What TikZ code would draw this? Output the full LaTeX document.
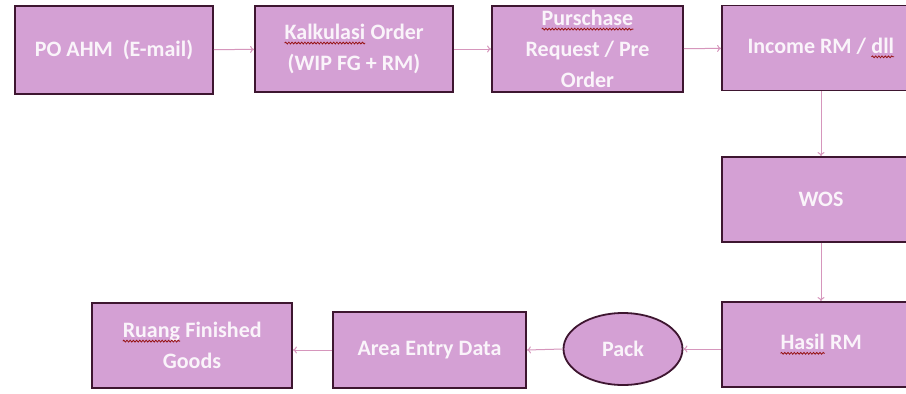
\documentclass[tikz,border=0pt]{standalone}
\usepackage{fontspec}
\setmainfont{Carlito}
\usetikzlibrary{arrows.meta,shapes.geometric,decorations.pathmorphing}
\definecolor{boxfill}{RGB}{212,160,212}
\definecolor{boxline}{RGB}{62,22,48}
\definecolor{boxtext}{RGB}{250,244,250}
\definecolor{arrowcol}{RGB}{214,150,188}
\definecolor{squigcol}{RGB}{150,20,20}
\tikzset{
  stepbox/.style={draw=boxline, line width=1.8pt, fill=boxfill, text=boxtext,
    inner sep=0pt, align=center, font=\fontsize{22}{31}\selectfont\bfseries},
  flowarrow/.style={draw=arrowcol, line width=1pt, -{To[length=4pt,width=7pt]}},
  squiggle/.style={draw=squigcol, line width=0.8pt, decorate,
    decoration={snake, amplitude=0.9pt, segment length=3.2pt}},
  plainword/.style={rectangle, draw=none, fill=none, inner sep=0pt, outer sep=0pt,
    minimum width=0pt, minimum height=0pt, line width=0.4pt}
}
\newcommand\sqword[1]{\tikz[baseline=(sqw.base)]{\node[plainword](sqw){#1};\draw[squiggle] ([yshift=-3.5pt]sqw.base west) -- ([yshift=-3.5pt]sqw.base east);}}
\begin{document}
\begin{tikzpicture}[x=1pt,y=-1pt]
\useasboundingbox (0,0) rectangle (906,394);
\fill[white] (0,0) rectangle (906,394);
% top row
\node[stepbox, minimum width=198pt, minimum height=88pt] (po) at (114,50) {PO AHM\ \ (E-mail)};
\node[stepbox, minimum width=198pt, minimum height=86pt] (kalk) at (354,49) {\sqword{Kalkulasi} Order\\(WIP FG + RM)};
\node[stepbox, minimum width=191pt, minimum height=86pt] (pr) at (587.5,49) {\sqword{Purschase}\\Request / Pre\\Order};
\node[stepbox, minimum width=198pt, minimum height=85pt] (inc) at (821,48) {Income RM / \sqword{dll}};
% right column
\node[stepbox, minimum width=198pt, minimum height=85pt] (wos) at (821,199.5) {WOS};
\node[stepbox, minimum width=198pt, minimum height=85pt] (hasil) at (821,344.5) {\sqword{Hasil} RM};
% bottom row
\node[stepbox, ellipse, minimum width=119pt, minimum height=72pt] (pack) at (623,349) {Pack};
\node[stepbox, minimum width=193pt, minimum height=76pt] (area) at (429.5,350) {Area Entry Data};
\node[stepbox, minimum width=200pt, minimum height=85pt] (ruang) at (192,345.5) {\sqword{Ruang} Finished\\Goods};
% connectors
\draw[flowarrow] (po) -- (kalk);
\draw[flowarrow] (kalk) -- (pr);
\draw[flowarrow] (pr) -- (inc);
\draw[flowarrow] (inc) -- (wos);
\draw[flowarrow] (wos) -- (hasil);
\draw[flowarrow] (hasil.west |- pack.center) -- (pack.east);
\draw[flowarrow] (pack.west) -- (area.east);
\draw[flowarrow] (area.west) -- (area.west -| ruang.east);
\end{tikzpicture}
\end{document}
